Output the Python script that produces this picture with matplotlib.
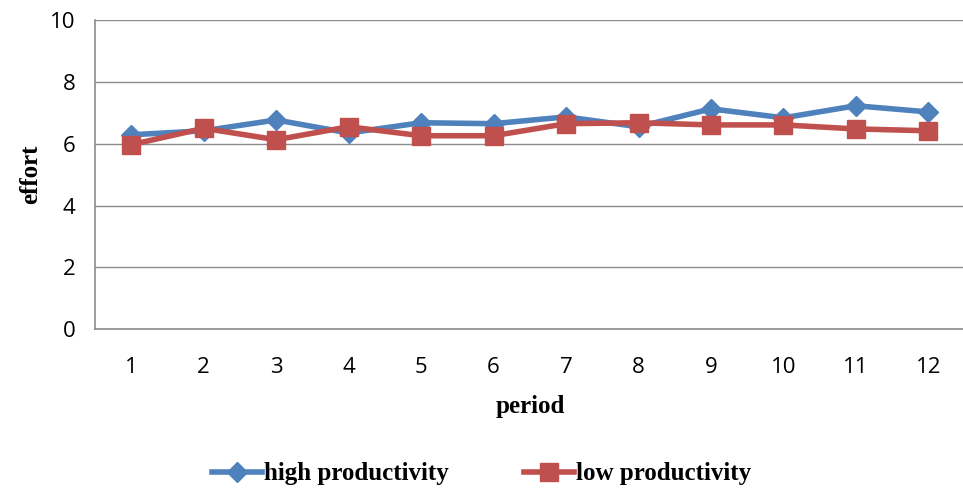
import numpy as np
import matplotlib.pyplot as plt

periods = np.arange(1, 13)
high_prod = [6.29, 6.42, 6.77, 6.35, 6.68, 6.65, 6.87, 6.55, 7.13, 6.84, 7.23, 7.03]
low_prod = [5.97, 6.50, 6.13, 6.55, 6.26, 6.26, 6.65, 6.68, 6.61, 6.61, 6.48, 6.42]

fig = plt.figure(figsize=(9.63, 4.92), dpi=100)
ax = fig.add_axes([0.0987, 0.331, 0.903, 0.628])

ax.plot(periods, high_prod, color="#4F81BD", lw=4, marker="D", ms=10,
        label="high productivity", zorder=3)
ax.plot(periods, low_prod, color="#C0504D", lw=4, marker="s", ms=12.5,
        label="low productivity", zorder=4)

ax.set_xlim(0.5, 12.5)
ax.set_ylim(0, 10)
ax.set_yticks(np.arange(0, 11, 2))
ax.set_xticks(periods)
ax.yaxis.grid(True, color="#8c8c8c", lw=1)
ax.set_axisbelow(True)
for s in ["top", "right"]:
    ax.spines[s].set_visible(False)
for s in ["left", "bottom"]:
    ax.spines[s].set_color("#8c8c8c")
    ax.spines[s].set_linewidth(1.2)
ax.tick_params(length=0, labelsize=16, pad=14)
for lbl in ax.get_xticklabels() + ax.get_yticklabels():
    lbl.set_family("Open Sans")
ax.tick_params(axis="x", pad=20)

serif = {"family": "Liberation Serif", "weight": "bold", "size": 18}
ax.set_xlabel("period", fontdict=serif, labelpad=12)
ax.set_ylabel("effort", fontdict=serif, labelpad=6)

fig.legend(loc="center", bbox_to_anchor=(0.5, 0.037), ncol=2, frameon=False,
           prop=serif, handlelength=2.0, handletextpad=0.1, columnspacing=3.0)

fig.savefig("out.png", dpi=100)
